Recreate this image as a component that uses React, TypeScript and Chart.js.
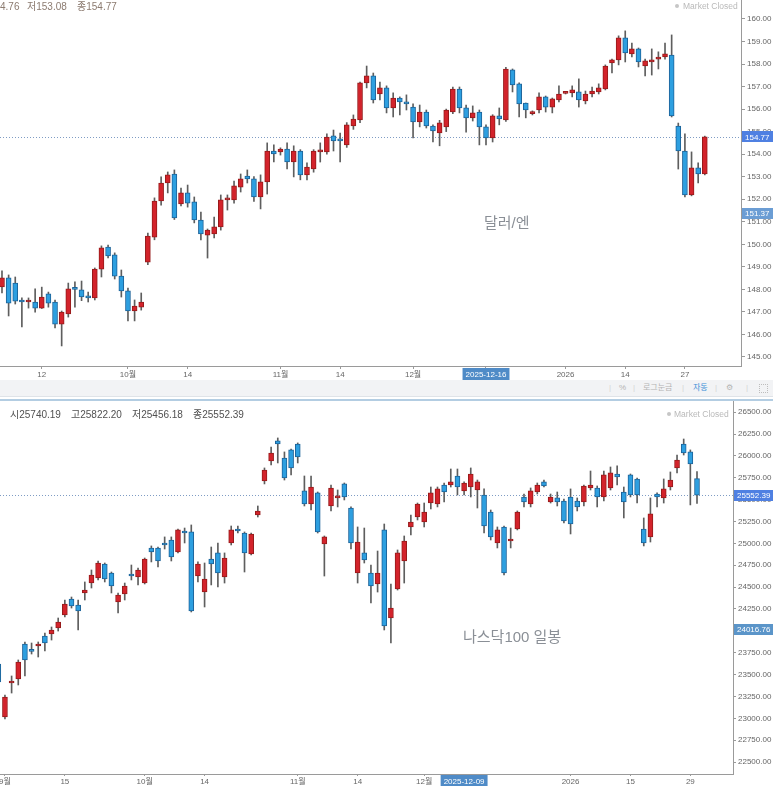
import React, { useEffect, useRef } from "react";
import { Chart, registerables } from "chart.js";

Chart.register(...registerables);

// ---------------- USD/JPY daily (top panel) ----------------
const usdjpyDates = [
  "2025-09-04","2025-09-05","2025-09-08","2025-09-09","2025-09-10","2025-09-11","2025-09-12","2025-09-15","2025-09-16","2025-09-17","2025-09-18","2025-09-19","2025-09-22","2025-09-23","2025-09-24","2025-09-25","2025-09-26","2025-09-29","2025-09-30",
  "2025-10-01","2025-10-02","2025-10-03","2025-10-06","2025-10-07","2025-10-08","2025-10-09","2025-10-10","2025-10-13","2025-10-14","2025-10-15","2025-10-16","2025-10-17","2025-10-20","2025-10-21","2025-10-22","2025-10-23","2025-10-24","2025-10-27","2025-10-28","2025-10-29","2025-10-30","2025-10-31",
  "2025-11-03","2025-11-04","2025-11-05","2025-11-06","2025-11-07","2025-11-10","2025-11-11","2025-11-12","2025-11-13","2025-11-14","2025-11-17","2025-11-18","2025-11-19","2025-11-20","2025-11-21","2025-11-24","2025-11-25","2025-11-26","2025-11-27","2025-11-28",
  "2025-12-01","2025-12-02","2025-12-03","2025-12-04","2025-12-05","2025-12-08","2025-12-09","2025-12-10","2025-12-11","2025-12-12","2025-12-15","2025-12-16","2025-12-17","2025-12-18","2025-12-19","2025-12-22","2025-12-23","2025-12-24","2025-12-25","2025-12-26","2025-12-29","2025-12-30","2025-12-31",
  "2026-01-01","2026-01-02","2026-01-05","2026-01-06","2026-01-07","2026-01-08","2026-01-09","2026-01-12","2026-01-13","2026-01-14","2026-01-15","2026-01-16","2026-01-19","2026-01-20","2026-01-21","2026-01-22","2026-01-23","2026-01-26","2026-01-27","2026-01-28","2026-01-29","2026-01-30",
];
const usdjpyOpen = [
  148.11,148.51,148.28,147.53,147.44,147.44,147.17,147.80,147.44,146.46,
  146.91,148.04,147.98,147.66,147.62,148.90,149.88,149.53,148.59,147.93,
  147.04,147.21,149.21,150.32,151.92,152.72,153.12,151.79,152.28,151.88,
  151.08,150.41,150.46,150.77,151.97,151.97,152.54,153.03,152.90,152.10,
  152.77,154.14,154.10,154.23,153.65,154.14,153.08,153.34,154.10,154.10,
  154.81,154.61,154.41,155.25,155.52,157.16,157.47,156.67,156.94,156.05,
  156.49,156.32,156.09,155.43,155.87,155.25,154.94,155.21,155.87,156.89,
  156.05,155.61,155.87,155.21,154.72,155.70,155.52,157.74,157.12,156.27,
  155.80,155.96,156.54,156.09,156.41,156.70,156.72,156.76,156.36,156.67,
  156.76,156.89,158.05,158.18,159.16,158.45,158.67,157.91,158.09,158.22,
  158.31,158.40,155.25,154.14,152.19,153.39,153.12,
];
const usdjpyHigh = [
  148.82,148.64,148.55,147.62,147.62,148.02,148.10,147.88,147.53,147.04,
  148.28,148.33,148.37,147.88,148.95,149.93,149.97,149.62,148.86,148.06,
  147.53,147.84,150.50,152.06,152.99,153.21,153.30,152.50,152.63,152.10,
  151.43,150.68,151.21,152.19,152.19,152.81,153.12,153.30,153.00,153.08,
  154.50,154.41,154.28,154.50,154.37,154.20,153.61,154.20,154.50,154.90,
  155.07,154.94,155.40,155.74,157.20,157.91,157.60,157.20,157.03,156.72,
  156.54,156.63,156.23,156.18,155.96,155.30,155.50,156.00,156.98,156.98,
  156.18,156.14,155.96,155.30,155.75,156.05,157.85,157.78,157.16,156.27,
  155.92,156.72,156.58,156.49,157.03,156.76,157.03,157.34,156.80,156.98,
  157.12,157.96,158.22,159.25,159.47,158.93,158.71,158.22,158.67,158.54,
  158.93,159.29,155.38,154.90,154.10,153.61,154.80,
];
const usdjpyLow = [
  147.84,146.82,147.35,146.33,147.17,146.99,147.15,147.21,146.29,145.49,
  146.77,147.21,147.50,147.44,147.53,148.55,149.40,148.46,147.66,146.60,
  146.60,147.08,149.10,150.20,151.74,152.28,151.10,151.70,151.65,150.95,
  150.19,149.39,150.28,150.63,151.52,151.83,152.32,152.72,151.90,151.57,
  152.23,153.65,153.96,153.34,152.99,152.86,152.86,153.20,153.65,154.00,
  154.14,153.65,154.30,155.10,155.40,156.94,156.27,156.41,155.83,155.65,
  155.74,155.96,154.72,155.21,155.16,154.54,154.37,155.00,155.80,155.83,
  154.98,155.47,154.41,154.41,154.54,155.30,155.45,156.76,155.65,155.61,
  155.74,155.83,155.87,155.83,156.32,156.67,156.54,156.09,156.23,156.54,
  156.67,156.85,157.60,157.96,158.09,158.31,157.87,157.47,157.51,157.78,
  158.22,155.65,153.34,152.10,152.15,152.72,153.08,
];
const usdjpyClose = [
  148.51,147.39,147.48,147.44,147.48,147.17,147.66,147.39,146.46,146.99,
  148.02,148.00,147.66,147.62,148.90,149.84,149.48,148.59,147.93,147.04,
  147.26,147.44,150.37,151.92,152.72,153.08,151.17,152.28,151.83,151.08,
  150.46,150.63,150.77,151.97,152.01,152.59,152.90,152.90,152.10,152.77,
  154.14,154.01,154.23,153.65,154.14,153.08,153.43,154.14,154.14,154.76,
  154.59,154.59,155.30,155.56,157.16,157.47,156.41,156.94,156.05,156.49,
  156.32,156.23,155.43,155.87,155.25,155.03,155.39,155.96,156.89,156.05,
  155.61,155.83,155.21,154.72,155.70,155.56,157.78,157.07,156.23,155.96,
  155.84,156.54,156.09,156.45,156.67,156.72,156.85,156.41,156.67,156.80,
  156.94,157.91,158.18,159.16,158.49,158.67,158.09,158.14,158.18,158.31,
  158.45,155.70,154.14,152.19,153.39,153.12,154.77,
];
const usdjpyTickDates = ["2025-09-12","2025-10-01","2025-10-14","2025-11-03","2025-11-14","2025-12-01","2025-12-16","2026-01-01","2026-01-14","2026-01-27"];
const usdjpyTickLabels = ["12","10월","14","11월","14","12월","2025-12-16","2026","14","27"];
const usdjpyYTicks = [145,146,147,148,149,150,151,152,153,154,155,156,157,158,159,160];
const usdjpyMarkers = [154.77, 151.37];

// ---------------- NASDAQ 100 daily (bottom panel) ----------------
const ndxDates = [
  "2025-08-29",
  "2025-09-02","2025-09-03","2025-09-04","2025-09-05","2025-09-08","2025-09-09","2025-09-10","2025-09-11","2025-09-12","2025-09-15","2025-09-16","2025-09-17","2025-09-18","2025-09-19","2025-09-22","2025-09-23","2025-09-24","2025-09-25","2025-09-26","2025-09-29","2025-09-30",
  "2025-10-01","2025-10-02","2025-10-03","2025-10-06","2025-10-07","2025-10-08","2025-10-09","2025-10-10","2025-10-13","2025-10-14","2025-10-15","2025-10-16","2025-10-17","2025-10-20","2025-10-21","2025-10-22","2025-10-23","2025-10-24","2025-10-27","2025-10-28","2025-10-29","2025-10-30","2025-10-31",
  "2025-11-03","2025-11-04","2025-11-05","2025-11-06","2025-11-07","2025-11-10","2025-11-11","2025-11-12","2025-11-13","2025-11-14","2025-11-17","2025-11-18","2025-11-19","2025-11-20","2025-11-21","2025-11-24","2025-11-25","2025-11-26","2025-11-28",
  "2025-12-01","2025-12-02","2025-12-03","2025-12-04","2025-12-05","2025-12-08","2025-12-09","2025-12-10","2025-12-11","2025-12-12","2025-12-15","2025-12-16","2025-12-17","2025-12-18","2025-12-19","2025-12-22","2025-12-23","2025-12-24","2025-12-26","2025-12-29","2025-12-30","2025-12-31",
  "2026-01-02","2026-01-05","2026-01-06","2026-01-07","2026-01-08","2026-01-09","2026-01-12","2026-01-13","2026-01-14","2026-01-15","2026-01-16","2026-01-20","2026-01-21","2026-01-22","2026-01-23","2026-01-26","2026-01-27","2026-01-28","2026-01-29","2026-01-30",
];
const ndxOpen = [
  23621,23015,23404,23449,23850,23772,23827,23941,23964,24033,
  24181,24364,24296,24433,24547,24605,24765,24662,24330,24422,
  24650,24616,24547,24948,24948,25005,25039,24902,25142,25131,
  24627,24444,24822,24891,24616,25005,25165,25119,24879,25325,
  25714,25943,26172,25977,26069,26137,25600,25451,25577,24993,
  25428,25520,25680,25405,24662,24891,24662,24536,25154,24147,
  24479,24799,25188,25302,25245,25462,25451,25668,25668,25771,
  25600,25645,25611,25554,25359,25005,25188,25028,25165,25531,
  25451,25588,25703,25474,25520,25485,25531,25485,25474,25634,
  25634,25531,25634,25794,25588,25783,25737,25165,25074,25565,
  25520,25645,25863,26137,26046,25740.19,
];
const ndxHigh = [
  23640,23266,23484,23667,23873,23861,23873,23975,24044,24147,
  24353,24387,24353,24559,24696,24799,24776,24673,24433,24547,
  24753,24719,24833,24971,24959,25074,25074,25165,25176,25211,
  24788,24776,24959,25005,24891,25199,25199,25131,25119,25428,
  25863,26103,26206,26046,26080,26149,25771,25771,25588,25085,
  25668,25611,25691,25417,25188,25176,24753,24913,25222,24536,
  24925,25085,25325,25462,25462,25645,25645,25691,25851,25851,
  25703,25863,25725,25623,25382,25188,25199,25176,25371,25565,
  25634,25691,25725,25565,25588,25508,25623,25520,25668,25828,
  25657,25828,25874,25886,25645,25794,25748,25291,25520,25577,
  25737,25817,26011,26194,26069,25822.20,
];
const ndxLow = [
  23390,22992,23289,23381,23484,23735,23701,23770,23895,23998,
  24158,24261,24010,24353,24490,24582,24559,24433,24204,24353,
  24582,24525,24536,24788,24730,24936,24799,24890,25005,24216,
  24559,24273,24525,24502,24547,24982,25119,24673,24868,25302,
  25680,25897,25920,25725,25783,25920,25428,25382,25119,24627,
  25371,25417,25497,24936,24547,24776,24319,24444,24010,23861,
  24467,24547,25096,25268,25188,25394,25417,25474,25645,25554,
  25554,25531,25405,25119,25039,24948,24639,24948,25154,25417,
  25417,25565,25645,25462,25428,25234,25108,25371,25428,25611,
  25417,25485,25611,25668,25291,25531,25462,24971,25016,25417,
  25462,25611,25806,26011,25440,25456.18,
];
const ndxClose = [
  23415,23243,23426,23644,23667,23766,23850,23861,24010,24101,
  24307,24284,24227,24467,24639,24776,24593,24513,24410,24513,
  24627,24696,24822,24902,24799,24982,24845,25154,25119,24227,
  24765,24593,24765,24662,24833,25154,25142,24891,25108,25371,
  25840,26034,26137,25748,25863,25989,25451,25645,25131,25074,
  25634,25543,25531,25005,25016,24810,24513,24662,24056,24261,
  24891,25028,25245,25451,25359,25577,25623,25588,25703,25645,
  25691,25794,25703,25199,25074,25154,24662,25039,25359,25474,
  25600,25668,25657,25531,25474,25257,25222,25417,25657,25668,
  25531,25783,25806,25760,25474,25554,25554,25005,25337,25531,
  25623,25725,25954,26034,25909,25552.39,
];
const ndxTickDates = ["2025-09-02","2025-09-15","2025-10-01","2025-10-14","2025-11-03","2025-11-14","2025-12-01","2025-12-09","2026-01-02","2026-01-15","2026-01-29"];
const ndxTickLabels = ["9월","15","10월","14","11월","14","12월","2025-12-09","2026","15","29"];
const ndxYTicks = [22500,22750,23000,23250,23500,23750,24000,24250,24500,24750,25000,25250,25500,25750,26000,26250,26500];
const ndxMarkers = [25552.39, 24016.76];

// ---------------- styling ----------------
const FONT = '"Liberation Sans", "Noto Sans CJK KR", Arial, sans-serif';
const RED = "#d3232b";
const RED_B = "#961b1b";
const BLUE = "#2d9fe0";
const BLUE_B = "#1d6399";
const WICK = "#5e5e5e";
const AXIS = "#9a9a9a";
const TICK_TXT = "#666666";

type Panel = {
  dates: string[];
  open: number[];
  high: number[];
  low: number[];
  close: number[];
  tickDates: string[];
  tickLabels: string[];
  highlight: string;
  yTicks: number[];
  markers: number[];
  markerColors: string[];
  yMin: number;
  yMax: number;
  xMin: number;
  xMax: number;
  yAxisW: number;
  xAxisH: number;
  xTickLen: number;
  xTickPad: number;
  yTickLen: number;
};

const topPanel: Panel = {
  dates: usdjpyDates, open: usdjpyOpen, high: usdjpyHigh, low: usdjpyLow, close: usdjpyClose,
  tickDates: usdjpyTickDates, tickLabels: usdjpyTickLabels, highlight: "2025-12-16",
  yTicks: usdjpyYTicks, markers: usdjpyMarkers, markerColors: ["#4f80e2", "#6b9dd4"],
  yMin: 144.6, yMax: 160.84, xMin: -0.3, xMax: 111.46,
  yAxisW: 32, xAxisH: 14, xTickLen: 3, xTickPad: 1, yTickLen: 4,
};

const bottomPanel: Panel = {
  dates: ndxDates, open: ndxOpen, high: ndxHigh, low: ndxLow, close: ndxClose,
  tickDates: ndxTickDates, tickLabels: ndxTickLabels, highlight: "2025-12-09",
  yTicks: ndxYTicks, markers: ndxMarkers, markerColors: ["#4f80e2", "#5b95c9"],
  yMin: 22363, yMax: 26640, xMin: 0.2555, xMax: 110.41,
  yAxisW: 40, xAxisH: 12, xTickLen: 2, xTickPad: 1, yTickLen: 3,
};

function overlayPlugin(p: Panel) {
  return {
    id: "priceOverlay",
    beforeDatasetsDraw(chart: any) {
      const { ctx, chartArea: a, scales } = chart;
      const y = Math.round(scales.y.getPixelForValue(p.markers[0])) + 0.5;
      ctx.save();
      ctx.strokeStyle = "#7f9cc4";
      ctx.lineWidth = 1;
      ctx.setLineDash([1, 2]);
      ctx.beginPath();
      ctx.moveTo(a.left, y);
      ctx.lineTo(a.right, y);
      ctx.stroke();
      ctx.restore();
    },
    afterDraw(chart: any) {
      const { ctx, chartArea: a, scales, width } = chart;
      ctx.save();
      ctx.font = `8px ${FONT}`;
      ctx.textBaseline = "middle";
      ctx.textAlign = "left";
      p.markers.forEach((v, i) => {
        const y = scales.y.getPixelForValue(v);
        ctx.fillStyle = p.markerColors[i];
        ctx.fillRect(a.right + 1, Math.round(y - 5.5), width - a.right - 1, 11);
        ctx.fillStyle = "#ffffff";
        ctx.fillText(v.toFixed(2), a.right + 4, y + 0.5);
      });
      ctx.restore();
    },
  };
}

function makeChart(canvas: HTMLCanvasElement, p: Panel) {
  const idx = p.dates.map((_, i) => i);
  const up = idx.map((i) => p.close[i] >= p.open[i]);
  const tickIdx = p.tickDates.map((d) => p.dates.indexOf(d));
  const hl = p.tickDates.indexOf(p.highlight);
  return new Chart(canvas, {
    type: "bar",
    data: {
      datasets: [
        {
          label: "body",
          data: idx.map((i) => ({ x: i, y: [p.open[i], p.close[i]] })) as any,
          backgroundColor: up.map((u) => (u ? RED : BLUE)),
          borderColor: up.map((u) => (u ? RED_B : BLUE_B)),
          borderWidth: 1,
          borderSkipped: false,
          barThickness: 5,
          minBarLength: 2,
          grouped: false,
          order: 0,
        } as any,
        {
          label: "wick",
          data: idx.map((i) => ({ x: i, y: [p.low[i], p.high[i]] })) as any,
          backgroundColor: WICK,
          borderWidth: 0,
          barThickness: 1,
          grouped: false,
          order: 1,
        } as any,
      ],
    },
    options: {
      animation: false,
      responsive: false,
      events: [],
      layout: { padding: 0 },
      plugins: { legend: { display: false }, tooltip: { enabled: false } },
      scales: {
        x: {
          type: "linear",
          min: p.xMin,
          max: p.xMax,
          offset: false,
          grid: { display: true, drawOnChartArea: false, drawTicks: true, tickLength: p.xTickLen, color: AXIS, offset: false },
          border: { display: true, color: AXIS },
          ticks: {
            autoSkip: false,
            maxRotation: 0,
            minRotation: 0,
            padding: p.xTickPad,
            font: { family: FONT, size: 8 },
            color: (c: any) => (c.index === hl ? "#ffffff" : TICK_TXT),
            showLabelBackdrop: (c: any) => c.index === hl,
            backdropColor: "#4f8bc7",
            backdropPadding: { top: 2, bottom: 2, left: 3, right: 3 },
            callback: (_v: any, i: number) => p.tickLabels[i],
          },
          afterBuildTicks: (s: any) => {
            s.ticks = tickIdx.map((v) => ({ value: v }));
          },
          afterFit: (s: any) => {
            s.height = p.xAxisH;
            s.paddingLeft = 0;
            s.paddingRight = 0;
          },
        } as any,
        y: {
          type: "linear",
          position: "right",
          min: p.yMin,
          max: p.yMax,
          grid: { display: true, drawOnChartArea: false, drawTicks: true, tickLength: p.yTickLen, color: AXIS },
          border: { display: true, color: AXIS },
          ticks: {
            padding: 2,
            font: { family: FONT, size: 8 },
            color: TICK_TXT,
            callback: (v: any) => Number(v).toFixed(2),
          },
          afterBuildTicks: (s: any) => {
            s.ticks = p.yTicks.map((v) => ({ value: v }));
          },
          afterFit: (s: any) => {
            s.width = p.yAxisW;
            s.paddingTop = 0;
            s.paddingBottom = 0;
          },
        } as any,
      },
    },
    plugins: [overlayPlugin(p) as any],
  });
}

const abs = (left: number, top: number, extra: React.CSSProperties = {}): React.CSSProperties => ({
  position: "absolute",
  left,
  top,
  whiteSpace: "nowrap",
  fontFamily: FONT,
  ...extra,
});

export default function App() {
  const topRef = useRef<HTMLCanvasElement>(null);
  const botRef = useRef<HTMLCanvasElement>(null);

  useEffect(() => {
    const c1 = makeChart(topRef.current!, topPanel);
    const c2 = makeChart(botRef.current!, bottomPanel);
    return () => {
      c1.destroy();
      c2.destroy();
    };
  }, []);

  const hdrTop: React.CSSProperties = { fontSize: 10, lineHeight: "12px", color: "#8c7b70" };
  const hdrBot: React.CSSProperties = { fontSize: 10, lineHeight: "12px", color: "#505050" };
  const mc: React.CSSProperties = { fontSize: 8.5, lineHeight: "12px", color: "#b9b9b9" };
  const big: React.CSSProperties = { fontSize: 15, lineHeight: "16px", color: "#8a8f96" };
  const tb: React.CSSProperties = { fontSize: 8, lineHeight: "12px", color: "#b4b4b4" };
  const sep: React.CSSProperties = { fontSize: 8, lineHeight: "12px", color: "#d4d4d4" };

  return (
    <div style={{ position: "absolute", left: 0, top: 0, width: 773, height: 786, overflow: "hidden", background: "#ffffff" }}>
      <canvas ref={topRef} width={773} height={380} style={{ position: "absolute", left: 0, top: 0, width: 773, height: 380 }} />

      <div style={{ position: "absolute", left: 0, top: 380, width: 773, height: 16, background: "#f2f3f5" }} />
      <div style={{ position: "absolute", left: 0, top: 396, width: 773, height: 1, background: "#dfe3e8" }} />

      <canvas ref={botRef} width={773} height={386} style={{ position: "absolute", left: 0, top: 400, width: 773, height: 386 }} />
      <div style={{ position: "absolute", left: 0, top: 399, width: 773, height: 2, background: "#b3cde2" }} />

      {/* top header */}
      <div style={abs(0, 1, hdrTop)}>4.76</div>
      <div style={abs(27, 1, hdrTop)}>저153.08</div>
      <div style={abs(77, 1, hdrTop)}>종154.77</div>
      <div style={abs(675, 4, { width: 4, height: 4, borderRadius: 2, background: "#c6c6c6" })} />
      <div style={abs(683, 0, mc)}>Market Closed</div>
      <div style={abs(484, 215, big)}>달러/엔</div>

      {/* toolbar */}
      <div style={abs(609, 382, sep)}>|</div>
      <div style={abs(619, 382, tb)}>%</div>
      <div style={abs(633, 382, sep)}>|</div>
      <div style={abs(643, 382, tb)}>로그눈금</div>
      <div style={abs(682, 382, sep)}>|</div>
      <div style={abs(693, 382, { ...tb, color: "#3d8fd8" })}>자동</div>
      <div style={abs(715, 382, sep)}>|</div>
      <div style={abs(726, 382, { ...tb, fontFamily: '"DejaVu Sans", sans-serif' })}>⚙</div>
      <div style={abs(746, 382, sep)}>|</div>
      <div style={abs(759, 384, { width: 7, height: 7, border: "1px dotted #bdbdbd" })} />

      {/* bottom header */}
      <div style={abs(10, 409, hdrBot)}>시25740.19</div>
      <div style={abs(71, 409, hdrBot)}>고25822.20</div>
      <div style={abs(132, 409, hdrBot)}>저25456.18</div>
      <div style={abs(193, 409, hdrBot)}>종25552.39</div>
      <div style={abs(667, 412, { width: 4, height: 4, borderRadius: 2, background: "#c6c6c6" })} />
      <div style={abs(674, 408, mc)}>Market Closed</div>
      <div style={abs(463, 629, big)}>나스닥100 일봉</div>
    </div>
  );
}
